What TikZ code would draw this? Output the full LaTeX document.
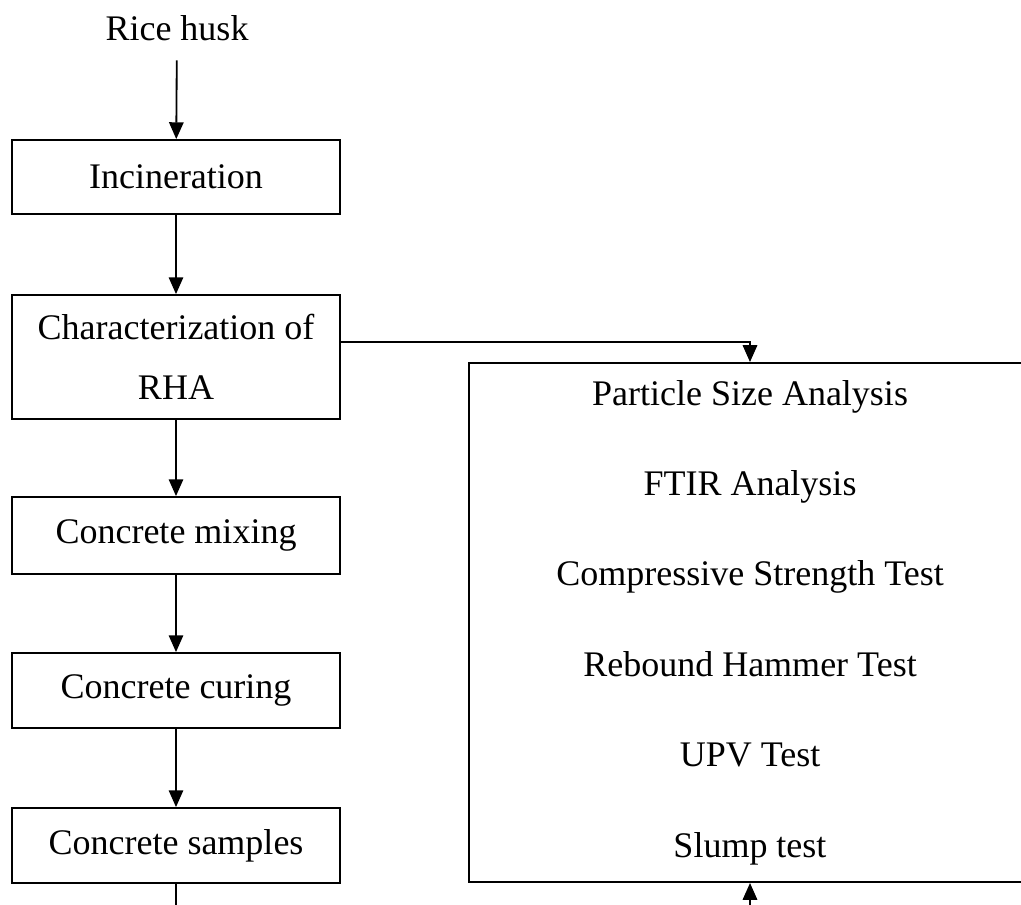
\documentclass[tikz,border=0pt]{standalone}
\usepackage{fontspec}
\setmainfont{Liberation Serif}
\usetikzlibrary{arrows.meta}
\tikzset{
  stage/.style={draw, line width=1.3pt, minimum width=8.2cm, inner sep=0pt,
    font=\fontsize{25.6}{30}\selectfont},
  flow/.style={-{Triangle[length=0.42cm,width=0.36cm]}, line width=1.3pt},
}
\begin{document}
\begin{tikzpicture}[x=0.025cm, y=-0.025cm]
\useasboundingbox (0,0) rectangle (1021,904);

% process steps
\node[minimum height=1.6cm, inner sep=0pt, font=\fontsize{25.6}{30}\selectfont] (rice) at (177,28) {Rice husk};
\node[stage, minimum height=1.85cm] (inc) at (176,177) {Incineration};
\node[stage, minimum height=3.1cm, align=center, font=\fontsize{25.6}{42.7}\selectfont] (char) at (176,357) {Characterization of\\RHA};
\node[stage, minimum height=1.925cm] (mix) at (176,535.5) {Concrete mixing};
\node[stage, minimum height=1.875cm] (cure) at (176,690.5) {Concrete curing};
\node[stage, minimum height=1.875cm] (samp) at (176,845.5) {Concrete samples};

% tests
\node[stage, minimum width=14.05cm, minimum height=12.975cm, align=center,
  font=\fontsize{25.6}{64.3}\selectfont] (tests) at (750,622.5)
  {Particle Size Analysis\\FTIR Analysis\\Compressive Strength Test\\Rebound Hammer Test\\UPV Test\\Slump test};

\draw[flow] (rice) -- (inc);
\draw[flow] (inc) -- (char);
\draw[flow] (char) -- (mix);
\draw[flow] (mix) -- (cure);
\draw[flow] (cure) -- (samp);
\draw[flow] ([yshift=0.375cm]char.east) -| (tests.north);

\coordinate (sampend) at (182,910);
\coordinate (testsin) at (750,910);
\draw[line width=1.3pt] (samp.south) -- (samp.south |- sampend);
\draw[flow] (testsin) -- (tests.south);
\end{tikzpicture}
\end{document}
